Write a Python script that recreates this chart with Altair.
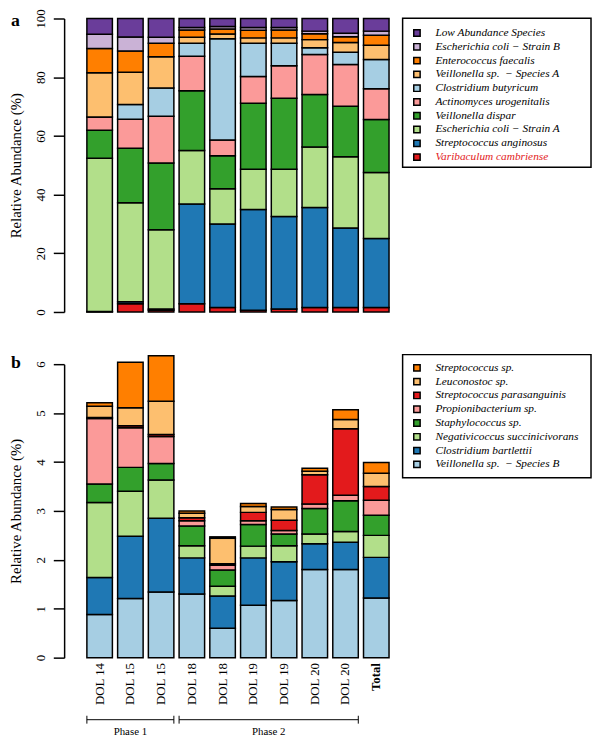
import json
import altair as alt
import pandas as pd

FONT = "Liberation Serif"

# ---------------- data ----------------
samples = ["DOL 14", "DOL 15", "DOL 15", "DOL 18", "DOL 18",
           "DOL 19", "DOL 19", "DOL 20", "DOL 20", "Total"]

# Panel a: cumulative top (%) of each species band, listed bottom -> top
a_species = ["Varibaculum cambriense", "Streptococcus anginosus",
             "Escherichia coli \u2212 Strain A", "Veillonella dispar",
             "Actinomyces urogenitalis", "Clostridium butyricum",
             "Veillonella sp.\u2002\u2212 Species A", "Enterococcus faecalis",
             "Escherichia coli \u2212 Strain B", "Low Abundance Species"]
a_colors = ["#E31A1C", "#1F78B4", "#B2DF8A", "#33A02C", "#FB9A99",
            "#A6CEE3", "#FDBF6F", "#FF7F00", "#CAB2D6", "#6A3D9A"]
a_top_varibaculum = [0.1, 2.8, 0.6, 2.8, 1.5, 0.6, 1.0, 1.5, 1.5, 1.5]
a_top_strep_anginosus = [0.2, 3.5, 1.0, 36.8, 30.0, 34.9, 32.5, 35.6, 28.6, 25.0]
a_top_ecoli_a = [52.4, 37.2, 28.0, 55.0, 42.0, 48.6, 48.6, 56.2, 52.9, 47.5]
a_top_veillonella_dispar = [61.9, 55.8, 50.8, 75.4, 53.2, 71.1, 72.8, 74.1, 70.1, 65.6]
a_top_actinomyces = [66.4, 65.7, 66.7, 87.1, 58.6, 80.2, 83.9, 87.7, 84.3, 76.1]
a_top_clostridium_butyricum = [66.4, 70.7, 76.3, 91.6, 93.1, 91.6, 91.6, 90.0, 88.5, 86.0]
a_top_veillonella_a = [81.5, 81.7, 87.0, 93.6, 94.7, 93.4, 93.4, 92.8, 91.8, 90.9]
a_top_enterococcus = [89.8, 88.9, 91.6, 96.1, 96.4, 96.0, 96.1, 94.8, 93.8, 94.3]
a_top_ecoli_b = [94.6, 93.7, 93.6, 96.9, 97.3, 96.9, 96.9, 95.7, 95.0, 95.7]
a_top_low_abundance = [100, 100, 100, 100, 100, 100, 100, 100, 100, 100]
a_tops = [a_top_varibaculum, a_top_strep_anginosus, a_top_ecoli_a,
          a_top_veillonella_dispar, a_top_actinomyces, a_top_clostridium_butyricum,
          a_top_veillonella_a, a_top_enterococcus, a_top_ecoli_b, a_top_low_abundance]
a_ticks = [0, 20, 40, 60, 80, 100]

# Panel b: cumulative top (%) of each species band, listed bottom -> top
b_species = ["Veillonella sp.\u2002\u2212 Species B", "Clostridium bartlettii",
             "Negativicoccus succinicivorans", "Staphylococcus sp.",
             "Propionibacterium sp.", "Streptococcus parasanguinis",
             "Leuconostoc sp.", "Streptococcus sp."]
b_colors = ["#A6CEE3", "#1F78B4", "#B2DF8A", "#33A02C",
            "#FB9A99", "#E31A1C", "#FDBF6F", "#FF7F00"]
b_top_veillonella_b = [0.88, 1.21, 1.34, 1.30, 0.60, 1.07, 1.17, 1.80, 1.80, 1.22]
b_top_clostridium_bartlettii = [1.64, 2.48, 2.85, 2.04, 1.26, 2.04, 1.96, 2.33, 2.36, 2.05]
b_top_negativicoccus = [3.17, 3.40, 3.63, 2.29, 1.46, 2.28, 2.29, 2.53, 2.58, 2.50]
b_top_staphylococcus = [3.55, 3.89, 3.97, 2.69, 1.79, 2.72, 2.53, 3.05, 3.21, 2.91]
b_top_propionibacterium = [4.89, 4.70, 4.52, 2.80, 1.89, 2.80, 2.60, 3.14, 3.32, 3.22]
b_top_strep_parasanguinis = [4.91, 4.74, 4.56, 2.86, 1.92, 2.97, 2.81, 3.74, 4.68, 3.50]
b_top_leuconostoc = [5.14, 5.11, 5.24, 2.95, 2.44, 3.09, 3.03, 3.81, 4.87, 3.77]
b_top_streptococcus = [5.21, 6.04, 6.17, 3.00, 2.47, 3.15, 3.08, 3.87, 5.07, 3.99]
b_tops = [b_top_veillonella_b, b_top_clostridium_bartlettii, b_top_negativicoccus,
          b_top_staphylococcus, b_top_propionibacterium, b_top_strep_parasanguinis,
          b_top_leuconostoc, b_top_streptococcus]
b_ticks = [0, 1, 2, 3, 4, 5, 6]

phase_names = ["Phase 1", "Phase 2"]
phase_start = [0, 3]
phase_end = [2, 8]


# ---------------- helpers ----------------
def stack_frame(species, tops):
    rows = []
    prev = [0.0] * len(samples)
    for sp, t in zip(species, tops):
        for j in range(len(samples)):
            rows.append({"idx": j, "species": sp, "bottom": prev[j], "top": t[j]})
        prev = t
    return pd.DataFrame(rows)


W, H = 353, 298
XSCALE = alt.Scale(domain=list(range(len(samples))), paddingInner=0.17, paddingOuter=0.74)
label_expr = json.dumps(samples) + "[datum.value]"


def y_axis(ticks):
    return alt.Axis(values=ticks, grid=False, tickSize=11, tickWidth=1.5, domainWidth=1.5,
                    domainColor="black", tickColor="black", labelAngle=-90,
                    labelAlign="center", labelBaseline="bottom", labelPadding=6,
                    labelFont=FONT, labelFontSize=13, labelColor="black",
                    title="Relative Abundance (%)", titleFont=FONT, titleFontSize=15,
                    titleFontWeight="normal", titleColor="black", titlePadding=11)


def legend(lx, ly, red_label=None):
    color = "black"
    if red_label:
        color = alt.ExprRef(expr="datum.label === '%s' ? '#E31A1C' : '#000000'" % red_label)
    return alt.Legend(title=None, orient="none", legendX=lx, legendY=ly, padding=0,
                      labelFont=FONT, labelFontSize=11.5, labelFontStyle="italic",
                      labelColor=color, labelLimit=400, labelOffset=13,
                      symbolType="square", symbolSize=42, symbolStrokeColor="black",
                      symbolStrokeWidth=1.5, symbolOpacity=1, rowPadding=1.0)


def one_row(**cols):
    return pd.DataFrame({k: [v] for k, v in cols.items()})


def panel(df, species, colors, ymax, ticks, x_axis, leg, box, letter, letter_y):
    order = species[::-1]
    corder = colors[::-1]
    bars = alt.Chart(df).mark_bar(stroke="black", strokeWidth=1.5).encode(
        x=alt.X("idx:O", scale=XSCALE, axis=x_axis, title=None),
        y=alt.Y("bottom:Q", scale=alt.Scale(domain=[0, ymax], nice=False, zero=True),
                axis=y_axis(ticks)),
        y2="top:Q",
        color=alt.Color("species:N", scale=alt.Scale(domain=order, range=corder), legend=leg),
    )
    frame = alt.Chart(one_row(k=0)).mark_rect(fillOpacity=0, stroke="black", strokeWidth=1.5).encode(
        x=alt.value(box[0]), x2=alt.value(box[1]), y=alt.value(box[2]), y2=alt.value(box[3]))
    tag = alt.Chart(one_row(t=letter)).mark_text(
        font=FONT, fontSize=18, fontWeight="bold", align="left", baseline="alphabetic",
        color="black").encode(x=alt.value(-54), y=alt.value(letter_y), text="t:N")
    return [bars, frame, tag]


# ---------------- panel a ----------------
df_a = stack_frame(a_species, a_tops)
layers_a = panel(df_a, a_species, a_colors, 100, a_ticks, None,
                 legend(352.5, 9.0, red_label="Varibaculum cambriense"),
                 (343.7, 535, -0.3, 151), "a", 8)
chart_a = alt.layer(*layers_a).properties(width=W, height=H)

# ---------------- panel b ----------------
df_b = stack_frame(b_species, b_tops)
x_axis_b = alt.Axis(labelExpr=label_expr, labelAngle=-90, labelAlign="right",
                    labelBaseline="middle", ticks=False, domain=False, labelPadding=5,
                    labelFont=FONT, labelFontSize=13, labelColor="black",
                    labelFontWeight={"condition": {"test": "datum.value == 9", "value": "bold"},
                                     "value": "normal"})
layers_b = panel(df_b, b_species, b_colors, 6, b_ticks, x_axis_b,
                 legend(352.5, -2.0), (343.7, 535, -9.7, 115.3), "b", 4.3)

phases = pd.DataFrame({"phase": phase_names, "start": phase_start, "end": phase_end})
pbase = alt.Chart(phases)
bracket = pbase.mark_rule(color="black", strokeWidth=1).encode(
    x=alt.X("start:O", bandPosition=0, title=None),
    x2=alt.X2("end:O", bandPosition=1), y=alt.value(H + 63))
cap_l = pbase.mark_rule(color="black", strokeWidth=1).encode(
    x=alt.X("start:O", bandPosition=0, title=None), y=alt.value(H + 59), y2=alt.value(H + 67))
cap_r = pbase.mark_rule(color="black", strokeWidth=1).encode(
    x=alt.X("end:O", bandPosition=1, title=None), y=alt.value(H + 59), y2=alt.value(H + 67))
# Phase 1 label centred on its middle bar (DOL 15), Phase 2 label centred in the gap
# between its 3rd and 4th bars
ptext1 = pbase.transform_filter(alt.datum.phase == "Phase 1").transform_calculate(
    mid="(datum.start + datum.end) / 2").mark_text(
    font=FONT, fontSize=11, color="black", baseline="alphabetic").encode(
    x=alt.X("mid:O", bandPosition=0.5, title=None), y=alt.value(H + 79), text="phase:N")
ptext2 = pbase.transform_filter(alt.datum.phase == "Phase 2").transform_calculate(
    mid="floor((datum.start + datum.end) / 2)").mark_text(
    font=FONT, fontSize=11, color="black", baseline="alphabetic", dx=2.6).encode(
    x=alt.X("mid:O", bandPosition=1, title=None), y=alt.value(H + 79), text="phase:N")

chart_b = alt.layer(*layers_b, bracket, cap_l, cap_r, ptext1, ptext2).properties(width=W, height=H)

chart = alt.vconcat(chart_a, chart_b, spacing=38).resolve_scale(
    color="independent", x="independent", y="independent").resolve_legend(
    color="independent").properties(
    padding={"top": -5, "left": 0, "right": 0, "bottom": 0},
    background="white").configure_view(stroke=None)

chart.save("out.html", embed_options={"renderer": "svg", "actions": False})
